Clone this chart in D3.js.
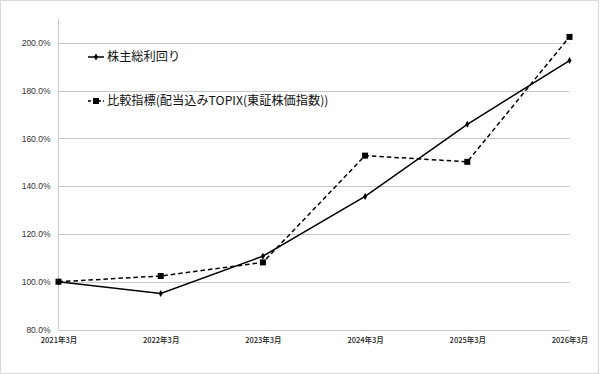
<!DOCTYPE html>
<html>
<head>
<meta charset="utf-8">
<script src="https://cdn.jsdelivr.net/npm/d3@7"></script>
<style>
  html, body { margin: 0; padding: 0; background: #fff; }
  svg { display: block; }
</style>
</head>
<body>
<svg id="chart" width="600" height="374"></svg>
<script>
// Fiscal year-end labels (March of each year)
const categories = ["2021年3月", "2022年3月", "2023年3月", "2024年3月", "2025年3月", "2026年3月"];
// Total shareholder return (%)
const tsrValues = [100.0, 95.1, 110.7, 135.7, 165.9, 192.6];
// Benchmark: TOPIX including dividends (%)
const topixValues = [100.0, 102.4, 108.1, 152.8, 150.2, 202.5];
// Y axis ticks (%)
const yTicks = [80, 100, 120, 140, 160, 180, 200];
const seriesNames = ["株主総利回り", "比較指標(配当込みTOPIX(東証株価指数))"];

const svg = d3.select("#chart");
const W = 600, H = 374;

// outer frame
svg.append("rect")
  .attr("x", 0.5).attr("y", 0.5)
  .attr("width", W - 2).attr("height", H - 1)
  .attr("fill", "#fff").attr("stroke", "#d9d9d9");

const plot = { left: 58.5, right: 569.5, top: 19, bottom: 329.5 };

const x = d3.scalePoint().domain(categories).range([plot.left, plot.right]);
const y = d3.scaleLinear().domain([80, 210]).range([plot.bottom, plot.top]);

// horizontal gridlines
svg.append("g")
  .selectAll("line")
  .data(yTicks)
  .join("line")
  .attr("x1", plot.left).attr("x2", plot.right)
  .attr("y1", d => Math.round(y(d)) + 0.5).attr("y2", d => Math.round(y(d)) + 0.5)
  .attr("stroke", "#c8c8c8").attr("stroke-width", 1);

// vertical axis line
svg.append("line")
  .attr("x1", plot.left).attr("x2", plot.left)
  .attr("y1", plot.top).attr("y2", plot.bottom)
  .attr("stroke", "#c8c8c8");

const font = "'Noto Sans CJK JP', 'Noto Sans', sans-serif";

// y tick labels
const yAxis = d3.axisLeft(y).tickValues(yTicks).tickSize(0).tickPadding(8)
  .tickFormat(d => d.toFixed(1) + "%");
svg.append("g")
  .attr("transform", `translate(${plot.left},0)`)
  .call(yAxis)
  .call(g => g.select(".domain").remove())
  .selectAll("text")
  .attr("font-family", "'Liberation Sans', Arial, sans-serif")
  .attr("font-size", 8.5)
  .attr("fill", "#333");

// x tick labels
const xAxis = d3.axisBottom(x).tickSize(0).tickPadding(8);
svg.append("g")
  .attr("transform", `translate(0,${plot.bottom})`)
  .call(xAxis)
  .call(g => g.select(".domain").remove())
  .selectAll("text")
  .attr("font-family", font)
  .attr("font-size", 7.5)
  .attr("font-weight", 500)
  .attr("fill", "#222");

const line = d3.line().x((d, i) => x(categories[i])).y(d => y(d));

// benchmark series (dashed, square markers)
svg.append("path")
  .datum(topixValues)
  .attr("d", line)
  .attr("fill", "none").attr("stroke", "#000")
  .attr("stroke-width", 1.5).attr("stroke-dasharray", "4.5,3");
svg.append("g")
  .selectAll("rect")
  .data(topixValues)
  .join("rect")
  .attr("x", (d, i) => x(categories[i]) - 3)
  .attr("y", d => y(d) - 3)
  .attr("width", 6).attr("height", 6)
  .attr("fill", "#000");

// TSR series (solid, diamond markers)
svg.append("path")
  .datum(tsrValues)
  .attr("d", line)
  .attr("fill", "none").attr("stroke", "#000")
  .attr("stroke-width", 1.5);
const diamond = d3.symbol().type(d3.symbolDiamond).size(14);
svg.append("g")
  .selectAll("path")
  .data(tsrValues)
  .join("path")
  .attr("d", diamond)
  .attr("transform", (d, i) => `translate(${x(categories[i])},${y(d)})`)
  .attr("fill", "#000");

// legend
const legend = svg.append("g");
const legendRows = [
  { name: seriesNames[0], dashed: false, cy: 57 },
  { name: seriesNames[1], dashed: true, cy: 101 }
];
legendRows.forEach(r => {
  legend.append("line")
    .attr("x1", 88).attr("x2", 104)
    .attr("y1", r.cy).attr("y2", r.cy)
    .attr("stroke", "#000").attr("stroke-width", 1.5)
    .attr("stroke-dasharray", r.dashed ? "3,2" : null);
  if (r.dashed) {
    legend.append("rect").attr("x", 93).attr("y", r.cy - 3)
      .attr("width", 6).attr("height", 6).attr("fill", "#000");
  } else {
    legend.append("path").attr("d", diamond)
      .attr("transform", `translate(96,${r.cy})`).attr("fill", "#000");
  }
  legend.append("text")
    .attr("x", 107).attr("y", r.cy)
    .attr("dy", "0.35em")
    .attr("font-family", font)
    .attr("font-size", 12.2)
    .attr("fill", "#111")
    .text(r.name);
});
</script>
</body>
</html>
